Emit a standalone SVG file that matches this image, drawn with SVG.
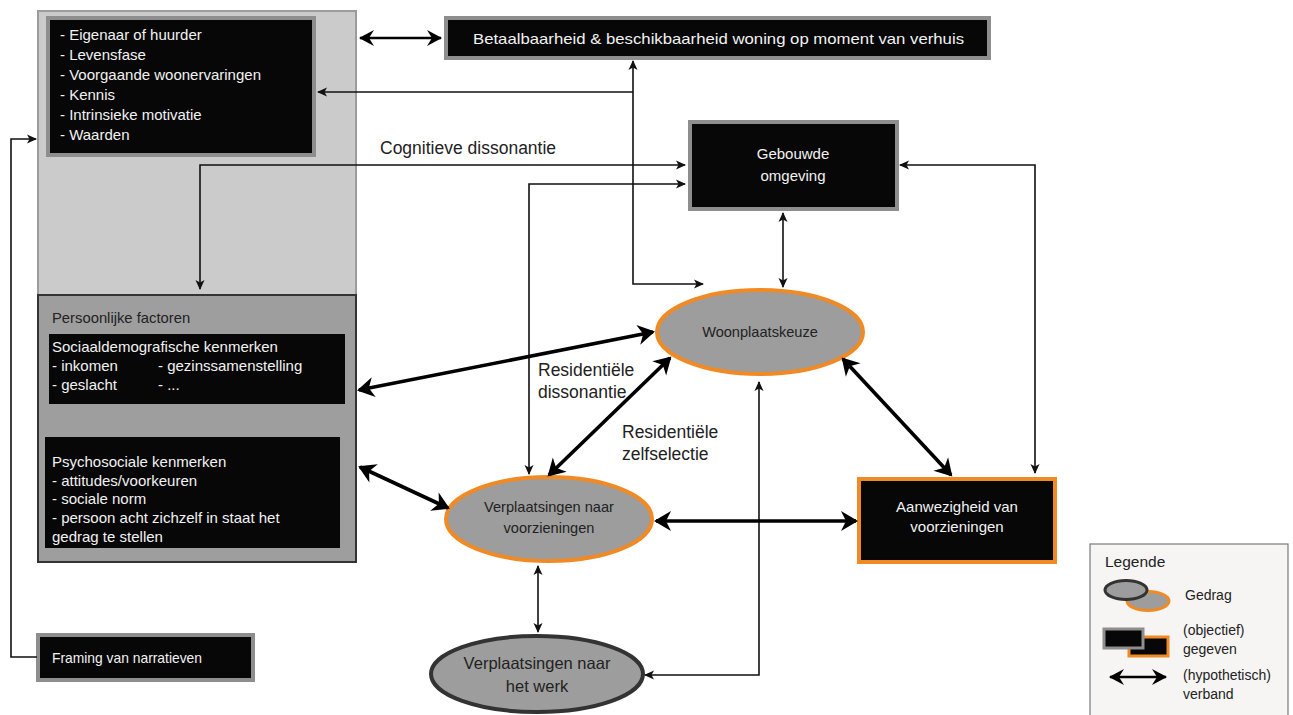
<svg xmlns="http://www.w3.org/2000/svg" width="1293" height="715" viewBox="0 0 1293 715">
  <style>
    text { font-family: "Liberation Sans", Arial, sans-serif; }
    .wt { fill: #f2f2f2; font-size: 15px; }
    .dk { fill: #222; }
    .blk { fill: #070707; stroke: #8e8e8e; stroke-width: 4; }
    .org { fill: #070707; stroke: #f08a24; stroke-width: 4; }
    .ell { fill: #9d9d9d; stroke: #f08a24; stroke-width: 4; }
    .thin { fill: none; stroke: #111; stroke-width: 1.6; marker-start: url(#sa); marker-end: url(#sa); }
    .thick { fill: none; stroke: #000; stroke-width: 3.6; marker-start: url(#la); marker-end: url(#la); }
  </style>
  <defs>
    <marker id="sa" markerUnits="userSpaceOnUse" viewBox="-12 -6 14 12" refX="-1" refY="0" markerWidth="14" markerHeight="12" orient="auto-start-reverse">
      <path d="M0,0 L-10,-4.5 L-7.5,0 L-10,4.5 Z" fill="#111"/>
    </marker>
    <marker id="ma" markerUnits="userSpaceOnUse" viewBox="-18 -10 20 20" refX="-1" refY="0" markerWidth="20" markerHeight="20" orient="auto-start-reverse">
      <path d="M0,0 L-15,-8 L-10,0 L-15,8 Z" fill="#000"/>
    </marker>
    <marker id="la" markerUnits="userSpaceOnUse" viewBox="-20 -12 22 24" refX="-2" refY="0" markerWidth="22" markerHeight="24" orient="auto-start-reverse">
      <path d="M0,0 L-17,-10 L-12,0 L-17,10 Z" fill="#000"/>
    </marker>
  </defs>

  <!-- personal context panel -->
  <g id="context-panel">
    <rect x="38" y="11" width="318" height="284" fill="#cbcbcb" stroke="#9c9c9c" stroke-width="2"/>
  </g>
  <g id="housing-history">
    <rect class="blk" x="48" y="18" width="266" height="137"/>
    <text class="wt" x="60" y="40" font-size="15.6">- Eigenaar of huurder</text>
    <text class="wt" x="60" y="60" font-size="15.6">- Levensfase</text>
    <text class="wt" x="60" y="80" font-size="15.6">- Voorgaande woonervaringen</text>
    <text class="wt" x="60" y="100" font-size="15.6">- Kennis</text>
    <text class="wt" x="60" y="120" font-size="15.6">- Intrinsieke motivatie</text>
    <text class="wt" x="60" y="140" font-size="15.6">-  Waarden</text>
  </g>

  <g id="personal-factors">
    <rect x="38" y="295" width="318" height="267" fill="#9e9e9e" stroke="#333" stroke-width="2"/>
    <text class="dk" x="52" y="323" font-size="14.8">Persoonlijke factoren</text>
  </g>
  <g id="sociodemographic">
    <rect x="49" y="334" width="296" height="70" fill="#070707"/>
    <text class="wt" x="52" y="352">Sociaaldemografische kenmerken</text>
    <text class="wt" x="52" y="371">- inkomen</text>
    <text class="wt" x="158" y="371">- gezinssamenstelling</text>
    <text class="wt" x="52" y="390">- geslacht</text>
    <text class="wt" x="158" y="390">- ...</text>
  </g>
  <g id="psychosocial">
    <rect x="45" y="437" width="295" height="111" fill="#070707"/>
    <text class="wt" x="52" y="467">Psychosociale kenmerken</text>
    <text class="wt" x="52" y="486">- attitudes/voorkeuren</text>
    <text class="wt" x="52" y="504">- sociale norm</text>
    <text class="wt" x="52" y="523">- persoon acht zichzelf in staat het</text>
    <text class="wt" x="52" y="542">gedrag te stellen</text>
  </g>

  <g id="framing">
    <rect class="blk" x="38" y="635" width="215" height="45"/>
    <text class="wt" x="52" y="663" font-size="14" textLength="150" lengthAdjust="spacingAndGlyphs">Framing van narratieven</text>
  </g>

  <g id="affordability">
    <rect class="blk" x="446" y="18" width="543" height="40"/>
    <text class="wt" x="473" y="44" font-size="17.5" textLength="491" lengthAdjust="spacingAndGlyphs">Betaalbaarheid &amp; beschikbaarheid woning op moment van verhuis</text>
  </g>

  <g id="built-environment">
    <rect class="blk" x="690" y="122" width="207" height="87"/>
    <text class="wt" x="793" y="159" font-size="16.5" text-anchor="middle">Gebouwde</text>
    <text class="wt" x="793" y="181" font-size="16.5" text-anchor="middle">omgeving</text>
  </g>

  <g id="residential-choice">
    <ellipse class="ell" cx="760" cy="332" rx="103" ry="42"/>
    <text class="dk" x="760" y="337" font-size="14.6" text-anchor="middle">Woonplaatskeuze</text>
  </g>

  <g id="trips-facilities">
    <ellipse class="ell" cx="549" cy="519" rx="103" ry="42"/>
    <text class="dk" x="549" y="512" font-size="14.6" text-anchor="middle">Verplaatsingen naar</text>
    <text class="dk" x="549" y="533" font-size="14.6" text-anchor="middle">voorzieningen</text>
  </g>

  <g id="facilities">
    <rect class="org" x="859" y="479" width="196" height="83"/>
    <text class="wt" x="957" y="512" font-size="14.2" text-anchor="middle">Aanwezigheid van</text>
    <text class="wt" x="957" y="532" font-size="14.2" text-anchor="middle">voorzieningen</text>
  </g>

  <g id="trips-work">
    <ellipse cx="537" cy="674" rx="106" ry="38" fill="#9d9d9d" stroke="#333" stroke-width="4"/>
    <text class="dk" x="537" y="669" font-size="16.5" text-anchor="middle">Verplaatsingen naar</text>
    <text class="dk" x="537" y="692" font-size="16.5" text-anchor="middle">het werk</text>
  </g>

  <g id="labels" class="dk" font-size="17.5">
    <text x="380" y="154">Cognitieve dissonantie</text>
    <text x="538" y="376">Residentiële</text>
    <text x="538" y="398">dissonantie</text>
    <text x="622" y="438">Residentiële</text>
    <text x="622" y="460">zelfselectie</text>
  </g>

  <g id="connectors">
    <path d="M360,38 H441" fill="none" stroke="#000" stroke-width="2.6" marker-start="url(#ma)" marker-end="url(#ma)"/>
    <path class="thin" d="M633,61 V284 H703"/>
    <path d="M633,92 H318" fill="none" stroke="#111" stroke-width="1.6" marker-end="url(#sa)"/>
    <path class="thin" d="M685,165 H200 V289"/>
    <path class="thin" d="M685,184 H529 V474"/>
    <path class="thin" d="M783,213 V287"/>
    <path class="thin" d="M900,165 H1035 V473"/>
    <path class="thin" d="M538,566 V632"/>
    <path class="thin" d="M645,675 H759 V382"/>
    <path d="M37,657 H11 V139 H36" fill="none" stroke="#111" stroke-width="1.6" marker-end="url(#sa)"/>
    <path class="thick" d="M359,390 L653,332"/>
    <path class="thick" d="M360,467 L448,508"/>
    <path class="thick" d="M549,475 L670,358"/>
    <path class="thick" d="M843,359 L951,475"/>
    <path class="thick" d="M656,521 H856"/>
  </g>

  <g id="legend">
    <rect x="1090" y="544" width="198" height="175" fill="#f6f5f3" stroke="#7a7a7a" stroke-width="1.2"/>
    <text class="dk" x="1105" y="567" font-size="15.5">Legende</text>
    <ellipse cx="1148" cy="601" rx="21" ry="9.5" fill="#9d9d9d" stroke="#f08a24" stroke-width="3"/>
    <ellipse cx="1126" cy="590" rx="21" ry="9.5" fill="#9d9d9d" stroke="#333" stroke-width="3"/>
    <text class="dk" x="1185" y="600" font-size="14">Gedrag</text>
    <rect x="1129" y="637" width="39" height="19" fill="#070707" stroke="#f08a24" stroke-width="3"/>
    <rect x="1104" y="629" width="39" height="19" fill="#070707" stroke="#8e8e8e" stroke-width="3"/>
    <text class="dk" x="1183" y="635" font-size="14">(objectief)</text>
    <text class="dk" x="1183" y="654" font-size="14">gegeven</text>
    <path d="M1110,677 H1166" fill="none" stroke="#000" stroke-width="2.6" marker-start="url(#ma)" marker-end="url(#ma)"/>
    <text class="dk" x="1183" y="680" font-size="14">(hypothetisch)</text>
    <text class="dk" x="1183" y="699" font-size="14">verband</text>
  </g>
</svg>
